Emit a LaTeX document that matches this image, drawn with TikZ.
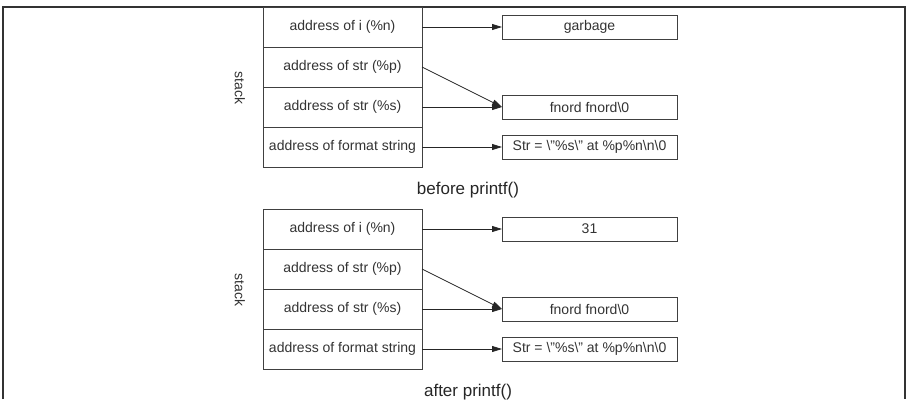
\documentclass[tikz,border=0pt]{standalone}
\usepackage{fontspec}
\setmainfont{Liberation Sans}
\usetikzlibrary{arrows.meta,positioning}

\tikzset{
  cell/.style={draw=black!75, line width=1pt, minimum width=159pt, minimum height=40pt, inner sep=0pt, outer sep=0pt, text=black!80, font=\fontsize{14}{16}\selectfont},
  valbox/.style={draw=black!75, line width=1pt, minimum width=175pt, minimum height=24pt, inner sep=0pt, outer sep=0pt, text=black!80, font=\fontsize{14}{16}\selectfont},
  arr/.style={-{Triangle[length=10pt,width=6pt]}, line width=0.8pt, black!85}
}

\begin{document}
\begin{tikzpicture}[x=1pt, y=-1pt]
\useasboundingbox (0,0) rectangle (910,399);
\draw[black!80, line width=1.2pt] (3,399) -- (3,7) -- (905,7) -- (905,399);
% two snapshots of the stack, before and after the call
\foreach \p/\oy/\val/\cap in {b/0/garbage/before printf(), a/202/31/after printf()} {
  \node[cell] (i\p) at (342.5,{27+\oy}) {address of i (\%n)};
  \node[cell, below=0pt of i\p] (p\p) {address of str (\%p)};
  \node[cell, below=0pt of p\p] (s\p) {address of str (\%s)};
  \node[cell, below=0pt of s\p] (f\p) {address of format string};
  \node[valbox] (v\p) at (589.5,{27+\oy}) {\val};
  \node[valbox] (n\p) at (589.5,{107+\oy}) {fnord fnord\textbackslash 0};
  \node[valbox] (t\p) at (589.5,{147+\oy}) {Str = \textbackslash"\%s\textbackslash" at \%p\%n\textbackslash n\textbackslash 0};
  \node[rotate=-90, text=black!80, font=\fontsize{14}{16}\selectfont] (k\p) at (240,{88+\oy}) {stack};
  \node[text=black!85, font=\fontsize{17}{20}\selectfont] (c\p) at (468,{190+\oy}) {\cap};
  \draw[arr] (i\p.east) -- (v\p.west);
  \draw[arr] (p\p.east) -- (n\p.west);
  \draw[arr] (s\p.east) -- (n\p.west);
  \draw[arr] (f\p.east) -- (t\p.west);
}
\end{tikzpicture}
\end{document}
